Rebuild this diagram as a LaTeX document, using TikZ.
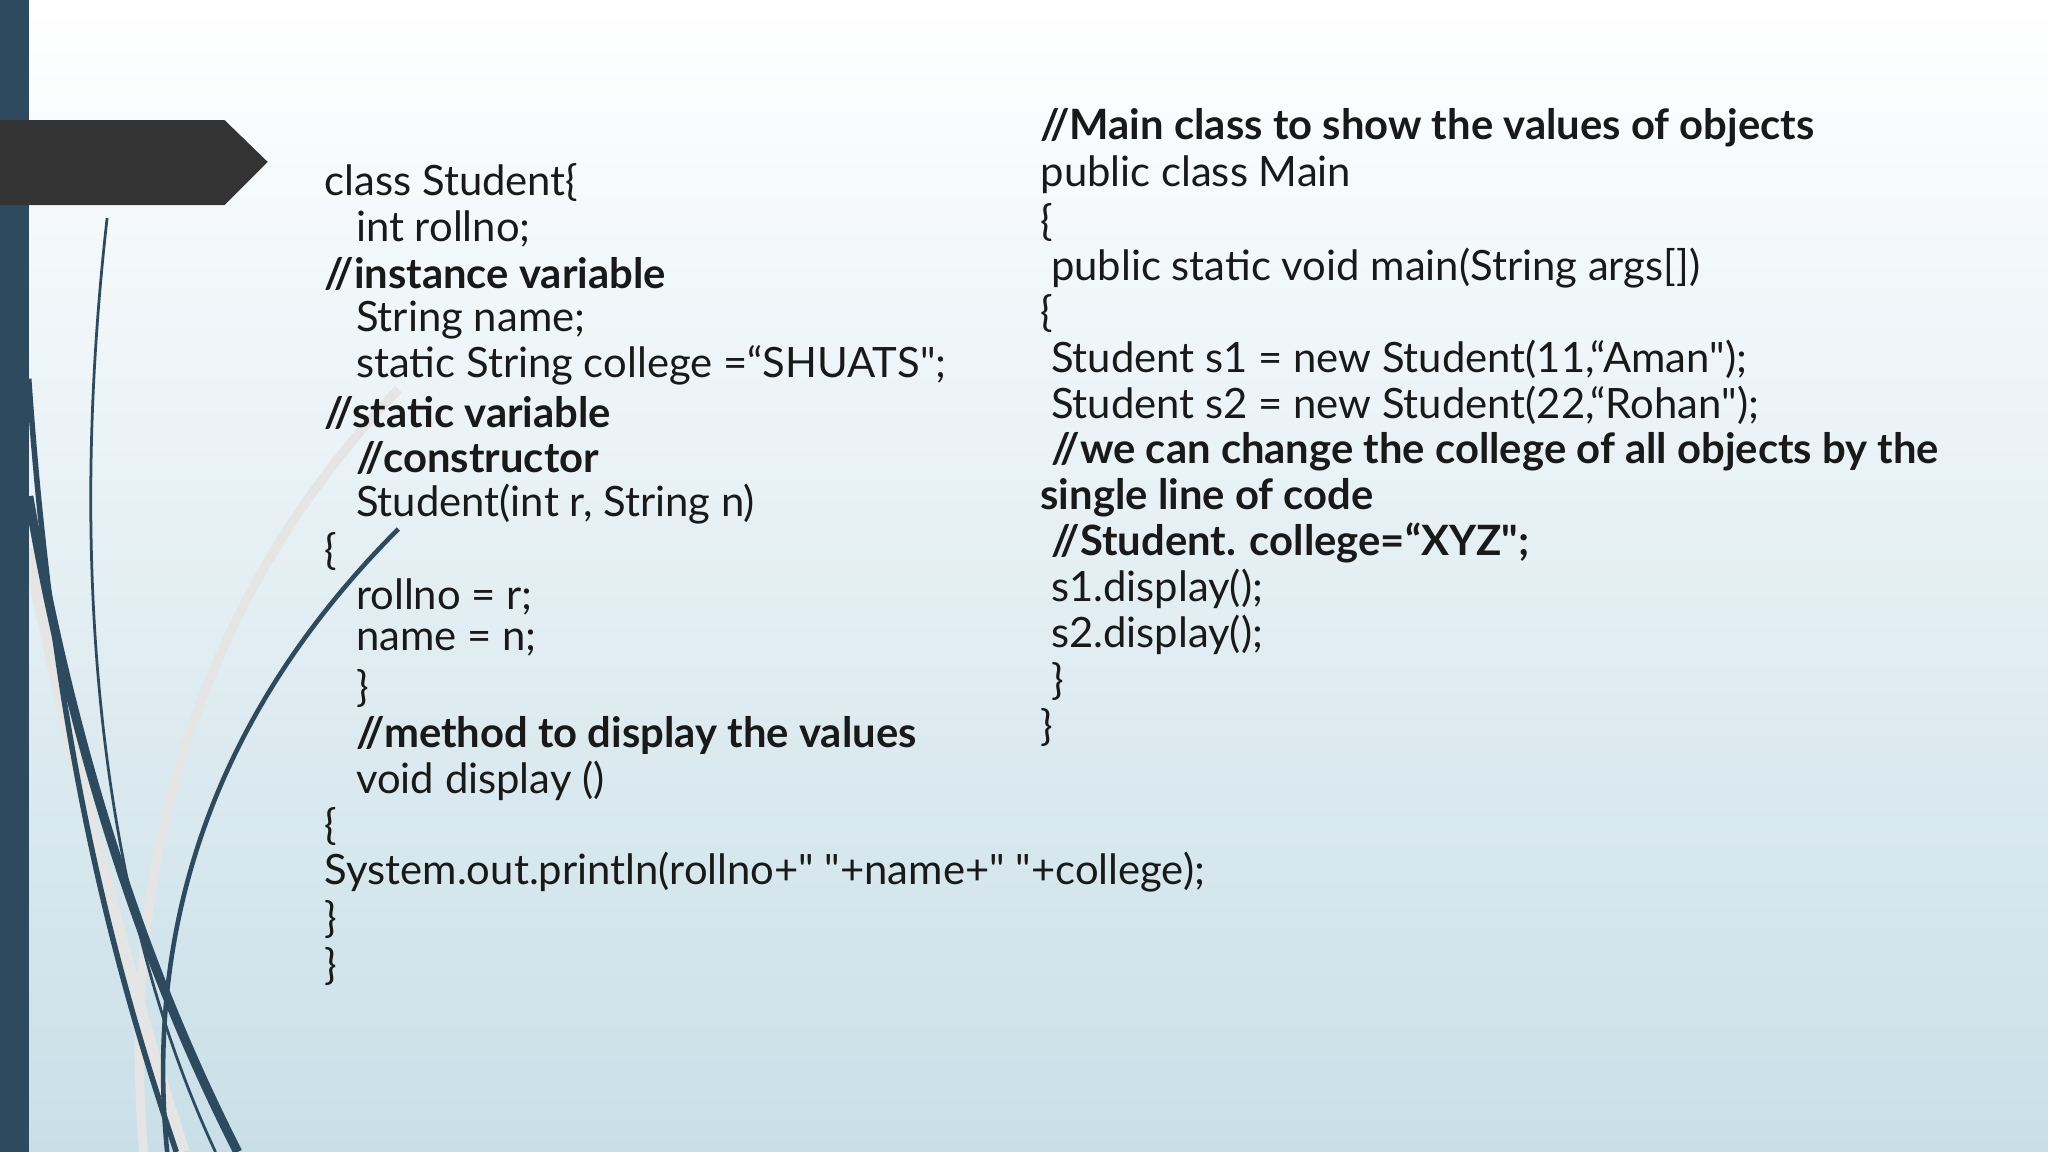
\documentclass[tikz,border=0pt]{standalone}
\usepackage{fontspec}
\setmainfont{Lato}
\newcommand{\dq}{\textquotedbl}
\begin{document}
\begin{tikzpicture}[x=0.01cm,y=-0.01cm,
  code/.style={anchor=west,inner sep=0pt,font=\fontsize{9.1pt}{10pt}\selectfont,text=black!90},
  cmt/.style={code,font=\fontsize{9.1pt}{10pt}\selectfont\bfseries}]
\definecolor{bar}{HTML}{2E4A5E}
\definecolor{bgb}{HTML}{C9DFE8}
\shade[top color=white,bottom color=bgb] (0,0) rectangle (1568,882);
\useasboundingbox (0,0) rectangle (1568,882);
% curves
\draw[gray!20,line width=2pt] (305,298) .. controls (160,450) and (90,650) .. (110,882);
\draw[gray!20,line width=3pt] (22,420) .. controls (60,600) and (100,760) .. (140,882);
\draw[bar,line width=0.6pt] (82,167) .. controls (50,450) and (80,700) .. (165,882);
\draw[bar,line width=1.2pt] (22,290) .. controls (40,550) and (80,720) .. (135,882);
\draw[bar,line width=2pt] (22,380) .. controls (60,600) and (120,760) .. (182,882);
\draw[bar,line width=1pt] (305,405) .. controls (170,540) and (110,700) .. (128,882);
\fill[bar] (0,0) rectangle (22,882);
\fill[black!80] (0,92) -- (172,92) -- (205,124) -- (172,157) -- (0,157) -- cycle;
% left code
\node[code] (l1) at (248,140) {class Student\{};
\node[code] (l2) at (272,175) {int rollno;};
\node[cmt] (l3) at (248,210) {//instance variable};
\node[code] (l4) at (272,245) {String name;};
\node[code] (l5) at (272,280) {static String college =“SHUATS\dq;};
\node[cmt] (l6) at (248,316) {//static variable};
\node[cmt] (l7) at (272,351) {//constructor};
\node[code] (l8) at (272,386) {Student(int r, String n)};
\node[code] (l9) at (248,422) {\{};
\node[code] (l10) at (272,457) {rollno = r;};
\node[code] (l11) at (272,492) {name = n;};
\node[code] (l12) at (272,527) {\}};
\node[cmt] (l13) at (272,563) {//method to display the values};
\node[code] (l14) at (272,598) {void display ()};
\node[code] (l15) at (248,633) {\{};
\node[code] (l16) at (248,668) {System.out.println(rollno+\dq{} \dq+name+\dq{} \dq+college);};
\node[code] (l17) at (248,704) {\}};
\node[code] (l18) at (248,740) {\}};
% right code
\node[cmt] (r1) at (796,98) {//Main class to show the values of objects};
\node[code] (r2) at (796,134) {public class Main};
\node[code] (r3) at (796,170) {\{};
\node[code] (r4) at (804,205) {public static void main(String args[])};
\node[code] (r5) at (796,240) {\{};
\node[code] (r6) at (804,275) {Student s1 = new Student(11,“Aman\dq);};
\node[code] (r7) at (804,310) {Student s2 = new Student(22,“Rohan\dq);};
\node[cmt] (r8) at (804,346) {//we can change the college of all objects by the};
\node[cmt] (r9) at (796,381) {single line of code};
\node[cmt] (r10) at (804,416) {//Student. college=“XYZ\dq;};
\node[code] (r11) at (804,451) {s1.display();};
\node[code] (r12) at (804,486) {s2.display();};
\node[code] (r13) at (804,522) {\}};
\node[code] (r14) at (796,557) {\}};
\end{tikzpicture}
\end{document}
